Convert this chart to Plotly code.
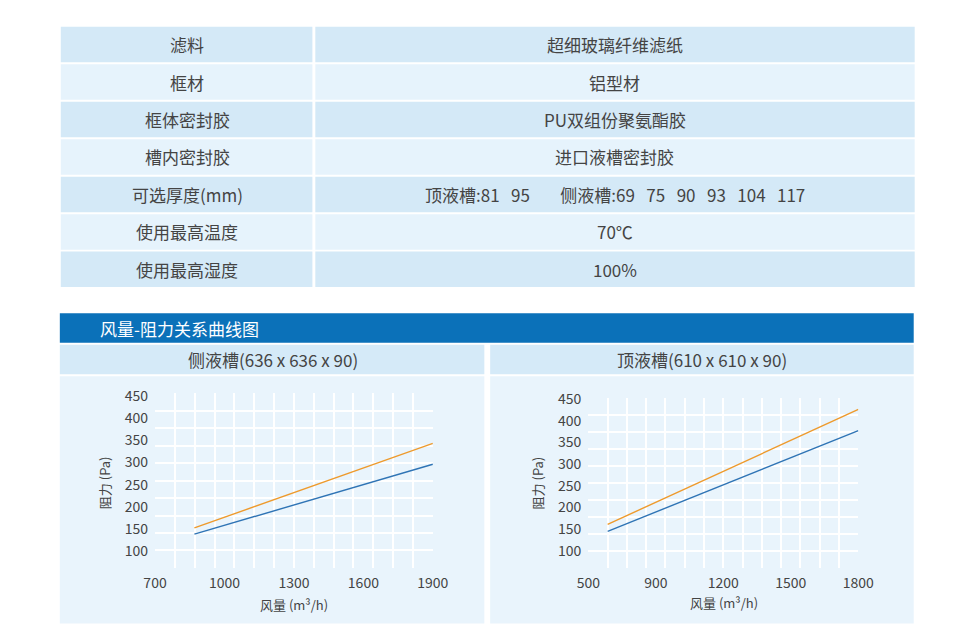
import plotly.graph_objects as go

W, H = 980, 641
OFF_X, OFF_Y = 8, 8  # page body margin of the viewer

# ---------------- data ----------------
table_labels = ["滤料", "框材", "框体密封胶", "槽内密封胶", "可选厚度(mm)", "使用最高温度", "使用最高湿度"]
table_values = ["超细玻璃纤维滤纸", "铝型材", "PU双组份聚氨酯胶", "进口液槽密封胶",
                "顶液槽:81\u00a0\u00a0\u00a095\u00a0\u00a0\u00a0\u00a0\u00a0\u00a0\u00a0\u00a0侧液槽:69\u00a0\u00a0\u00a075\u00a0\u00a0\u00a090\u00a0\u00a0\u00a093\u00a0\u00a0\u00a0104\u00a0\u00a0\u00a0117",
                "70℃", "100%"]

section_title = "风量-阻力关系曲线图"
left_title = "侧液槽(636 x 636 x 90)"
right_title = "顶液槽(610 x 610 x 90)"
y_title = "阻力 (Pa)"
x_title = "风量 (m³/h)"

left_x = [870, 1900]
left_orange = [153, 343]
left_blue = [139, 296]
left_xticks = [700, 1000, 1300, 1600, 1900]
left_xticktext = ["700", "1000", "1300", "1600", "1900"]

right_x = [686, 1800]
right_orange = [161, 426]
right_blue = [145, 377]
right_xticks = [600, 900, 1200, 1500, 1800]
right_xticktext = ["500", "900", "1200", "1500", "1800"]

y_ticks = [100, 150, 200, 250, 300, 350, 400, 450]

# ---------------- helpers ----------------
def px(x):
    return (x - OFF_X) / W

def py(y):
    return 1 - (y - OFF_Y) / H

FONT = "Noto Sans CJK SC"
TXT = "#444444"
ORANGE = "#ee9a2c"
BLUE = "#2f74b5"

shapes = []
annotations = []

def rect(x0, y0, x1, y1, color):
    shapes.append(dict(type="rect", xref="paper", yref="paper",
                       x0=px(x0), x1=px(x1), y0=py(y1), y1=py(y0),
                       fillcolor=color, line=dict(width=0), layer="below"))

def text(x, y, s, size, color=TXT, xanchor="center", angle=0):
    annotations.append(dict(x=px(x), y=py(y), xref="paper", yref="paper",
                            text=s, showarrow=False, xanchor=xanchor, yanchor="middle",
                            textangle=angle,
                            font=dict(family=FONT, size=size, color=color)))

# ---------------- table ----------------
top = 17.0
row_h = 38.05
for i, (lab, val) in enumerate(zip(table_labels, table_values)):
    y0 = top + i * row_h
    y1 = y0 + row_h - 2
    col = "#d4e9f7" if i % 2 == 0 else "#e6f3fc"
    rect(50, y0, 309, y1, col)
    rect(312, y0, 929, y1, col)
    yc = (y0 + y1) / 2
    text(180, yc, lab, 17)
    text(620, yc, val, 17)

# ---------------- section header ----------------
rect(49, 308, 928, 338, "#0b71b9")
text(88, 323.5, section_title, 17, color="white", xanchor="left")

rect(49, 340, 486, 370, "#d5eaf8")
rect(492, 340, 928, 370, "#d5eaf8")
text(268, 355, left_title, 17)
text(710, 355, right_title, 17)

rect(49, 372, 486, 623, "#e9f4fc")
rect(492, 372, 928, 623, "#e9f4fc")

# axis titles
text(95, 480, y_title, 13, angle=-90)
text(290, 604, x_title, 13)
text(541, 480, y_title, 13, angle=-90)
text(733, 602, x_title, 13)

# ---------------- traces ----------------
fig = go.Figure()
fig.add_trace(go.Scatter(x=left_x, y=left_orange, mode="lines", line=dict(color=ORANGE, width=1.4),
                         xaxis="x", yaxis="y", showlegend=False))
fig.add_trace(go.Scatter(x=left_x, y=left_blue, mode="lines", line=dict(color=BLUE, width=1.4),
                         xaxis="x", yaxis="y", showlegend=False))
fig.add_trace(go.Scatter(x=right_x, y=right_orange, mode="lines", line=dict(color=ORANGE, width=1.4),
                         xaxis="x2", yaxis="y2", showlegend=False))
fig.add_trace(go.Scatter(x=right_x, y=right_blue, mode="lines", line=dict(color=BLUE, width=1.4),
                         xaxis="x2", yaxis="y2", showlegend=False))

tickfont = dict(family=FONT, size=14, color=TXT)

def xaxis(dom, rng, tv, tt, anchor):
    return dict(domain=dom, range=rng, tickvals=tv, ticktext=tt, showgrid=False,
                zeroline=False, showline=False, ticks="", tickfont=tickfont,
                ticklabelstandoff=5, anchor=anchor, fixedrange=True,
                minor=dict(tick0=rng[0], dtick=(rng[1] - rng[0]) / 14, showgrid=True,
                           gridcolor="white", gridwidth=1.6, ticks=""))

def yaxis(dom, rng, anchor):
    return dict(domain=dom, range=rng, tickvals=y_ticks, showgrid=False,
                zeroline=False, showline=False, ticks="", tickfont=tickfont,
                ticklabelstandoff=6, anchor=anchor, fixedrange=True,
                minor=dict(tick0=rng[0], dtick=(rng[1] - rng[0]) / 10, showgrid=True,
                           gridcolor="white", gridwidth=1.6, ticks=""))

fig.update_layout(
    width=W, height=H,
    margin=dict(l=0, r=0, t=0, b=0),
    paper_bgcolor="white",
    plot_bgcolor="#e3f0fa",
    xaxis=xaxis([px(147), px(433)], [700, 1900], left_xticks, left_xticktext, "y"),
    yaxis=yaxis([py(566.7), py(389)], [63, 456], "x"),
    xaxis2=xaxis([px(593), px(871)], [600, 1800], right_xticks, right_xticktext, "y2"),
    yaxis2=yaxis([py(566.7), py(394.3)], [60.5, 451.6], "x2"),
    shapes=shapes,
    annotations=annotations,
    showlegend=False,
)

fig.write_html("out.html")
